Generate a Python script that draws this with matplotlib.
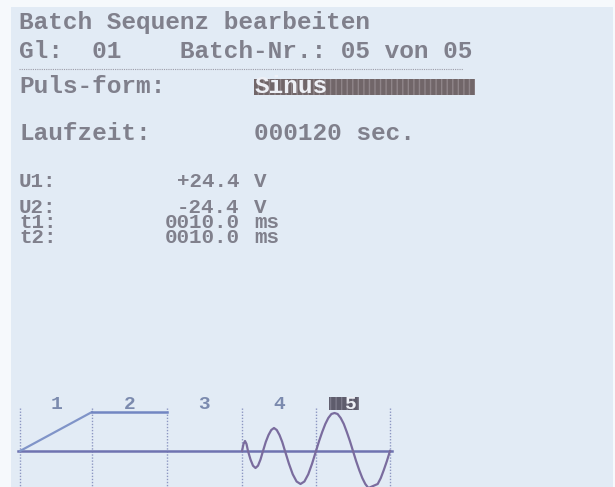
import matplotlib
matplotlib.use('Agg')
import matplotlib.pyplot as plt
from matplotlib.patches import Rectangle

# screen texts
title = 'Batch Sequenz bearbeiten'
line2 = 'Gl:  01    Batch-Nr.: 05 von 05'
puls_label = 'Puls-form:'
puls_value = 'Sinus'
lauf_label = 'Laufzeit:'
lauf_value = '000120 sec.'

u1_label, u1_value, u1_unit = 'U1:', '+24.4', 'V'
p_labels = ['U2:', 't1:', 't2:']
p_values = ['-24.4', '0010.0', '0010.0']
p_units = ['V', 'ms', 'ms']

# pulse preview: segment borders, labels, waveform (amplitude in px above zero line)
seg_x = [20, 92, 167, 242, 316, 390]
seg_labels = ['1', '2', '3', '4', '5']
active_seg = 4

ramp_x = [20, 92, 167]
ramp_a = [0, 39, 39]

sin4_x = [242, 243.5, 245, 246.5, 248, 250.5, 253, 255.5, 258, 260.5, 263,
          265.75, 268.5, 271.25, 274, 276.75, 279.5, 282.25, 285,
          288.9, 292.75, 296.6, 300.5, 304.4, 308.25, 312.1, 316]
sin4_a = [0, 7, 10, 7, 0, -8.5, -14.7, -17, -14.7, -8.5, 0,
          9, 16, 21, 23, 21, 16, 9, 0,
          -12.6, -23.3, -30.5, -33, -30.5, -23.3, -12.6, 0]

sin5_x = [316, 319.1, 322.2, 325.3, 328.3, 331.4, 334.5, 337.6, 340.7, 343.8,
          346.8, 349.9, 353, 356.1, 359.2, 362.3, 365.3, 368.4, 371.5, 374.6,
          377.7, 380.8, 383.8, 386.9, 390]
sin5_a = [0, 10, 19, 27, 33, 37, 38, 37, 33, 27, 19, 10, 0,
          -10, -19, -27, -33, -37, -38, -37, -33, -27, -19, -10, 0]

zero_y = 451
X0 = 19
PITCH = 14.7

TXT = '#80808c'
BG = '#e2ebf5'

fig = plt.figure(figsize=(6.15, 4.87), dpi=100)
fig.patch.set_facecolor('#f6f9fc')
ax = fig.add_axes([0, 0, 1, 1])
ax.set_xlim(0, 615)
ax.set_ylim(487, 0)
ax.axis('off')

# lcd area
ax.add_patch(Rectangle((11, 7), 602, 490, facecolor=BG, edgecolor='none'))

top_font = dict(family='Liberation Mono', fontweight='bold', fontsize=17.6,
                color=TXT, va='baseline', ha='left')

ax.text(X0, 29, title, **top_font)
ax.text(X0, 58, line2, **top_font)
ax.plot([X0, 463], [69, 69], color='#9c9ca8', lw=0.8, ls=(0, (1, 1)))

# highlighted field
ax.add_patch(Rectangle((X0 + 16 * PITCH, 79), 15 * PITCH, 16,
                       facecolor='#716669', edgecolor='#8f8589',
                       hatch='|||', lw=0))
ax.text(X0, 93, puls_label, **top_font)
ax.text(X0 + 16 * PITCH, 93, puls_value,
        **{**top_font, 'color': '#eef0f6'})

ax.text(X0, 140, lauf_label, **top_font)
ax.text(X0 + 16 * PITCH, 140, lauf_value, **top_font)

# parameter block (smaller, tightly packed lines)
small = dict(family='Liberation Mono', fontweight='bold', fontsize=15,
             color=TXT, va='baseline')
ax.text(X0, 187, u1_label, ha='left', **small)
ax.text(X0 + 15 * PITCH, 187, u1_value, ha='right', **small)
ax.text(X0 + 16 * PITCH, 187, u1_unit, ha='left', **small)

# multi-line blocks: y is the baseline of the last line (t2)
ls = 0.72
last_base = 243
ax.text(X0, last_base, '\n'.join(p_labels), ha='left', linespacing=ls, **small)
ax.text(X0 + 15 * PITCH, last_base, '\n'.join(p_values), ha='right',
        multialignment='right', linespacing=ls, **small)
ax.text(X0 + 16 * PITCH, last_base, '\n'.join(p_units), ha='left',
        multialignment='left', linespacing=ls, **small)

# pulse preview
for x in seg_x:
    ax.plot([x, x], [408, 487], color='#8d97c2', lw=1.0, ls=(0, (1, 1.2)))
ax.plot([seg_x[0] - 2, seg_x[-1] + 2], [zero_y, zero_y], color='#6f73b0', lw=1.8)

ax.plot(ramp_x[:2], [zero_y - a for a in ramp_a[:2]], color='#8094c8', lw=1.6)
ax.plot(ramp_x[1:], [zero_y - a for a in ramp_a[1:]], color='#7286c2', lw=1.8)
ax.plot(sin4_x, [zero_y - a for a in sin4_a], color='#7a6c9e', lw=1.6)
ax.plot(sin5_x, [zero_y - a for a in sin5_a], color='#7a6c9e', lw=1.6)

for i, lab in enumerate(seg_labels):
    cx = (seg_x[i] + seg_x[i + 1]) / 2
    if i == active_seg:
        ax.add_patch(Rectangle((cx - 24, 397), 30, 13, facecolor='#5e5c6c',
                               edgecolor='#7c7a8a', hatch='|||', lw=0))
        ax.text(cx - 2, 409, lab, ha='center', va='baseline',
                family='Liberation Mono', fontweight='bold', fontsize=14,
                color='#eef0f6')
    else:
        ax.text(cx, 409, lab, ha='center', va='baseline',
                family='Liberation Mono', fontweight='bold', fontsize=14,
                color='#7b8aae')

fig.savefig('out.png', dpi=100, facecolor=fig.get_facecolor())
